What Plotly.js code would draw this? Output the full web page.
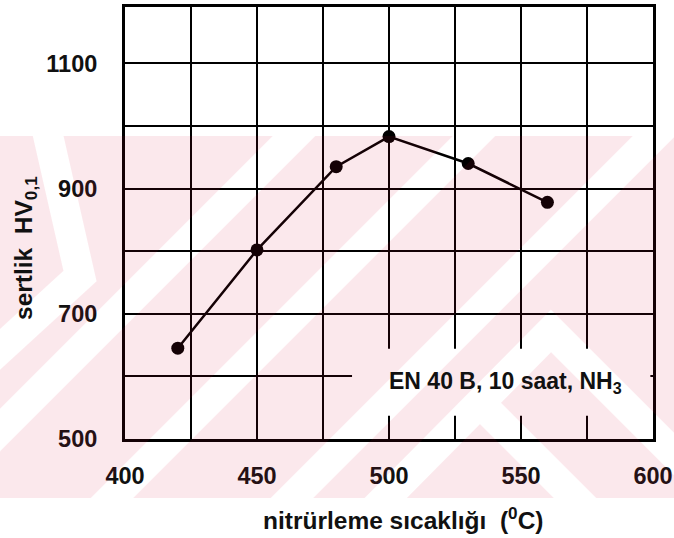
<!DOCTYPE html>
<html>
<head>
<meta charset="utf-8">
<script src="https://cdn.plot.ly/plotly-3.0.1.min.js"></script>
<style>html,body{margin:0;padding:0;background:#fff;}</style>
</head>
<body>
<div id="chart" style="width:674px;height:538px;"></div>
<script>
// ---- data ----
const temperature = [420, 450, 480, 500, 530, 560];
const hardness = [645, 802, 935, 983, 940, 878];
const xTitle = 'nitrürleme sıcaklığı\u00a0\u00a0(<sup>0</sup>C)';
const yTitle = 'sertlik\u00a0\u00a0HV<sub>0,1</sub>';
const noteText = 'EN 40 B, 10 saat, NH<sub>3</sub>';

// ---- figure geometry (pixels) ----
const W = 674, H = 538;
const M = {l: 125, r: 21, t: 7, b: 99};
const PW = W - M.l - M.r, PH = H - M.t - M.b;
const px = x => (x - M.l) / PW;
const py = y => (H - M.b - y) / PH;

// faint pink background watermark (drawn on a canvas, transparent where white)
function watermark() {
  const c = document.createElement('canvas');
  c.width = W; c.height = H;
  const g = c.getContext('2d');
  g.fillStyle = 'rgb(220,20,60)';
  g.fillRect(0, 136, W, 362);
  g.globalCompositeOperation = 'destination-out';
  g.strokeStyle = '#000';
  g.lineCap = 'butt';
  g.lineJoin = 'miter';
  const stroke = (pts, w) => {
    g.lineWidth = w;
    g.beginPath();
    g.moveTo(pts[0][0], pts[0][1]);
    for (let i = 1; i < pts.length; i++) g.lineTo(pts[i][0], pts[i][1]);
    g.stroke();
  };
  // left chevron
  stroke([[40, 100], [80, 276], [-40, 386]], 30);
  // diagonal stripes
  [430, 610, 790].forEach(k => stroke([[k - 700, 700], [k + 100, -100]], 30));
  // peaked chevrons lower right
  stroke([[885 - 620, 620], [551, 331], [551 + 260, 331 + 260]], 30);
  stroke([[482, 405], [482 + 220, 405 + 220]], 30);
  return c.toDataURL('image/png');
}

const fontFam = 'Arial, "Liberation Sans", Helvetica, sans-serif';
const ink = '#111';

const trace = {
  x: temperature,
  y: hardness,
  type: 'scatter',
  mode: 'lines+markers',
  line: {color: '#000', width: 2.5},
  marker: {color: '#000', size: 13},
  hoverinfo: 'skip',
  showlegend: false
};

const tickFont = {family: fontFam, size: 23.5, color: ink, weight: 'bold'};

const layout = {
  width: W, height: H,
  margin: M,
  paper_bgcolor: '#fff',
  plot_bgcolor: 'rgba(0,0,0,0)',
  font: {family: fontFam, size: 23, color: ink, weight: 'bold'},
  xaxis: {
    range: [400, 600],
    tickmode: 'linear', tick0: 400, dtick: 50,
    ticks: 'outside', ticklen: 14, tickcolor: 'rgba(0,0,0,0)',
    tickfont: tickFont,
    showgrid: true, gridcolor: '#000', gridwidth: 2,
    minor: {dtick: 25, showgrid: true, gridcolor: '#000', gridwidth: 2, ticks: ''},
    showline: true, mirror: true, linecolor: '#000', linewidth: 3,
    zeroline: false, fixedrange: true
  },
  yaxis: {
    range: [500, 1190],
    tickmode: 'linear', tick0: 500, dtick: 200,
    ticks: 'outside', ticklen: 20, tickcolor: 'rgba(0,0,0,0)',
    tickfont: tickFont,
    showgrid: true, gridcolor: '#000', gridwidth: 2,
    minor: {dtick: 100, showgrid: true, gridcolor: '#000', gridwidth: 2, ticks: ''},
    showline: true, mirror: true, linecolor: '#000', linewidth: 3,
    zeroline: false, fixedrange: true
  },
  shapes: [
    {type: 'rect', xref: 'x', yref: 'y', x0: 486, x1: 599, y0: 537, y1: 644,
     fillcolor: '#fff', line: {width: 0}, layer: 'between'}
  ],
  annotations: [
    {text: noteText, xref: 'paper', yref: 'paper', x: px(505), y: py(382),
     xanchor: 'center', yanchor: 'middle', showarrow: false,
     font: {family: fontFam, size: 23, color: ink, weight: 'bold'}},
    {text: xTitle, xref: 'paper', yref: 'paper', x: px(403), y: py(518),
     xanchor: 'center', yanchor: 'middle', showarrow: false,
     font: {family: fontFam, size: 24.5, color: ink, weight: 'bold'}},
    {text: yTitle, xref: 'paper', yref: 'paper', x: px(25), y: py(248),
     xanchor: 'center', yanchor: 'middle', showarrow: false, textangle: -90,
     font: {family: fontFam, size: 24.5, color: ink, weight: 'bold'}}
  ],
  images: [
    {source: watermark(), xref: 'paper', yref: 'paper',
     x: px(0), y: py(0), sizex: W / PW, sizey: H / PH,
     xanchor: 'left', yanchor: 'top', sizing: 'stretch',
     layer: 'above', opacity: 0.09}
  ]
};

Plotly.newPlot('chart', [trace], layout, {displayModeBar: false, staticPlot: true});
</script>
</body>
</html>
